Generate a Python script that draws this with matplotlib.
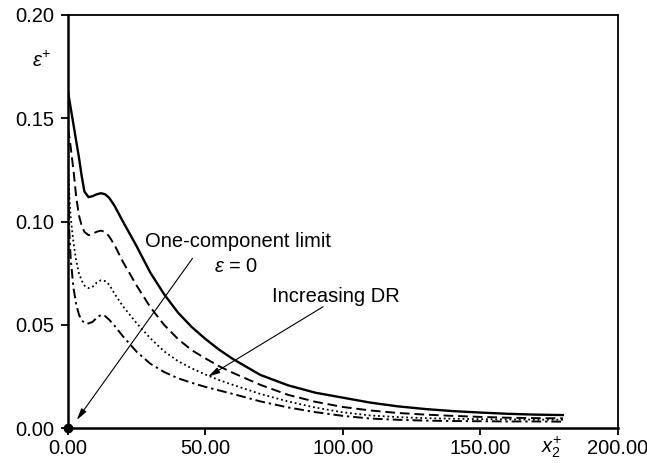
import matplotlib
matplotlib.use('Agg')
import matplotlib.pyplot as plt

plt.rcParams['font.family'] = ['Liberation Sans', 'DejaVu Sans']
plt.rcParams['mathtext.fontset'] = 'custom'
plt.rcParams['mathtext.rm'] = 'Liberation Sans'
plt.rcParams['mathtext.it'] = 'Liberation Sans:italic'

# wall distance x2+ (shared by all four profiles)
x2 = [0, 0.5, 1, 2, 3, 4, 5, 6, 7.5, 9, 10.5, 12, 13.5, 15, 17, 20, 25, 30,
      35, 40, 45, 50, 55, 60, 70, 80, 90, 100, 110, 120, 130, 140, 150,
      160, 170, 180]

# dissipation profiles eps+, from lowest to highest drag reduction
eps_solid = [0.163, 0.159, 0.155, 0.147, 0.139, 0.131, 0.122, 0.1145, 0.1118,
             0.1123, 0.1132, 0.1137, 0.1132, 0.1115, 0.1075, 0.1000, 0.0880,
             0.0752, 0.0648, 0.0560, 0.0490, 0.0432, 0.0380, 0.0335, 0.0258,
             0.0208, 0.0172, 0.0148, 0.0124, 0.0106, 0.0093, 0.0083, 0.0076,
             0.0070, 0.0066, 0.0064]
eps_dashed = [0.145, 0.141, 0.136, 0.125, 0.112, 0.103, 0.098, 0.095, 0.0934,
              0.0940, 0.0951, 0.0956, 0.0950, 0.0928, 0.0885, 0.0805, 0.0690,
              0.0585, 0.0500, 0.0432, 0.0378, 0.0338, 0.0300, 0.0268, 0.0210,
              0.0162, 0.0128, 0.0103, 0.0086, 0.0074, 0.0066, 0.0060, 0.0055,
              0.0051, 0.0049, 0.0048]
eps_dotted = [0.132, 0.112, 0.102, 0.090, 0.081, 0.075, 0.0715, 0.0690, 0.0678,
              0.0685, 0.0705, 0.0716, 0.0712, 0.0695, 0.0650, 0.0590, 0.0508,
              0.0435, 0.0372, 0.0325, 0.0290, 0.0260, 0.0233, 0.0210, 0.0166,
              0.0130, 0.0100, 0.0077, 0.0062, 0.0054, 0.0049, 0.0046, 0.0044,
              0.0043, 0.0042, 0.0041]
eps_dashdot = [0.125, 0.095, 0.082, 0.068, 0.060, 0.055, 0.0522, 0.0510, 0.0507,
               0.0515, 0.0535, 0.0548, 0.0543, 0.0525, 0.0495, 0.0445, 0.0370,
               0.0312, 0.0272, 0.0242, 0.0220, 0.0200, 0.0183, 0.0166, 0.0130,
               0.0101, 0.0078, 0.0060, 0.0047, 0.0041, 0.0037, 0.0035, 0.0034,
               0.0033, 0.0033, 0.0032]

xticks = [0, 50, 100, 150, 200]
yticks = [0.0, 0.05, 0.10, 0.15, 0.20]

fig = plt.figure(figsize=(6.47, 4.63), dpi=100)
ax = fig.add_axes([0.105, 0.075, 0.850, 0.893])

ax.plot(x2, eps_solid, color='black', lw=1.7, ls='-')
ax.plot(x2, eps_dashed, color='black', lw=1.4, ls=(0, (5, 2.5)))
ax.plot(x2, eps_dotted, color='black', lw=1.3, ls=(0, (1, 1.6)))
ax.plot(x2, eps_dashdot, color='black', lw=1.4, ls=(0, (5, 2, 1.2, 2)))

# one-component limit at the wall
ax.plot([0], [0], 'o', color='black', ms=6, clip_on=False, zorder=5)

arrow = dict(arrowstyle='-|>,head_length=0.7,head_width=0.18', lw=0.8,
             color='black', shrinkA=0, shrinkB=0)
ax.annotate('', xy=(3.2, 0.004), xytext=(45.3, 0.0822), arrowprops=arrow)
ax.annotate('', xy=(51, 0.025), xytext=(92.8, 0.0588), arrowprops=arrow)

ax.text(28, 0.0903, 'One-component limit', fontsize=14.5, ha='left', va='center')
ax.text(61.3, 0.0782, r'$\varepsilon$ = 0', fontsize=14.5, ha='center', va='center')
ax.text(74.1, 0.0637, 'Increasing DR', fontsize=14.5, ha='left', va='center')

ax.set_xlim(0, 200)
ax.set_ylim(0, 0.20)
ax.set_xticks(xticks)
ax.set_xticklabels([f'{v:.2f}' for v in xticks])
ax.set_yticks(yticks)
ax.set_yticklabels([f'{v:.2f}' for v in yticks])
ax.tick_params(direction='out', length=5, width=1.3, labelsize=14.5, pad=3)
ax.tick_params(axis='y', pad=5)
for side in ['left', 'bottom']:
    ax.spines[side].set_linewidth(1.8)
for side in ['top', 'right']:
    ax.spines[side].set_linewidth(1.3)

fig.text(0.064, 0.868, r'$\varepsilon^{+}$', fontsize=14.5, ha='center', va='center')
fig.text(0.852, 0.006, r'$x_2^{+}$', fontsize=14.5, ha='center', va='bottom')

plt.savefig('out.png', dpi=100)
